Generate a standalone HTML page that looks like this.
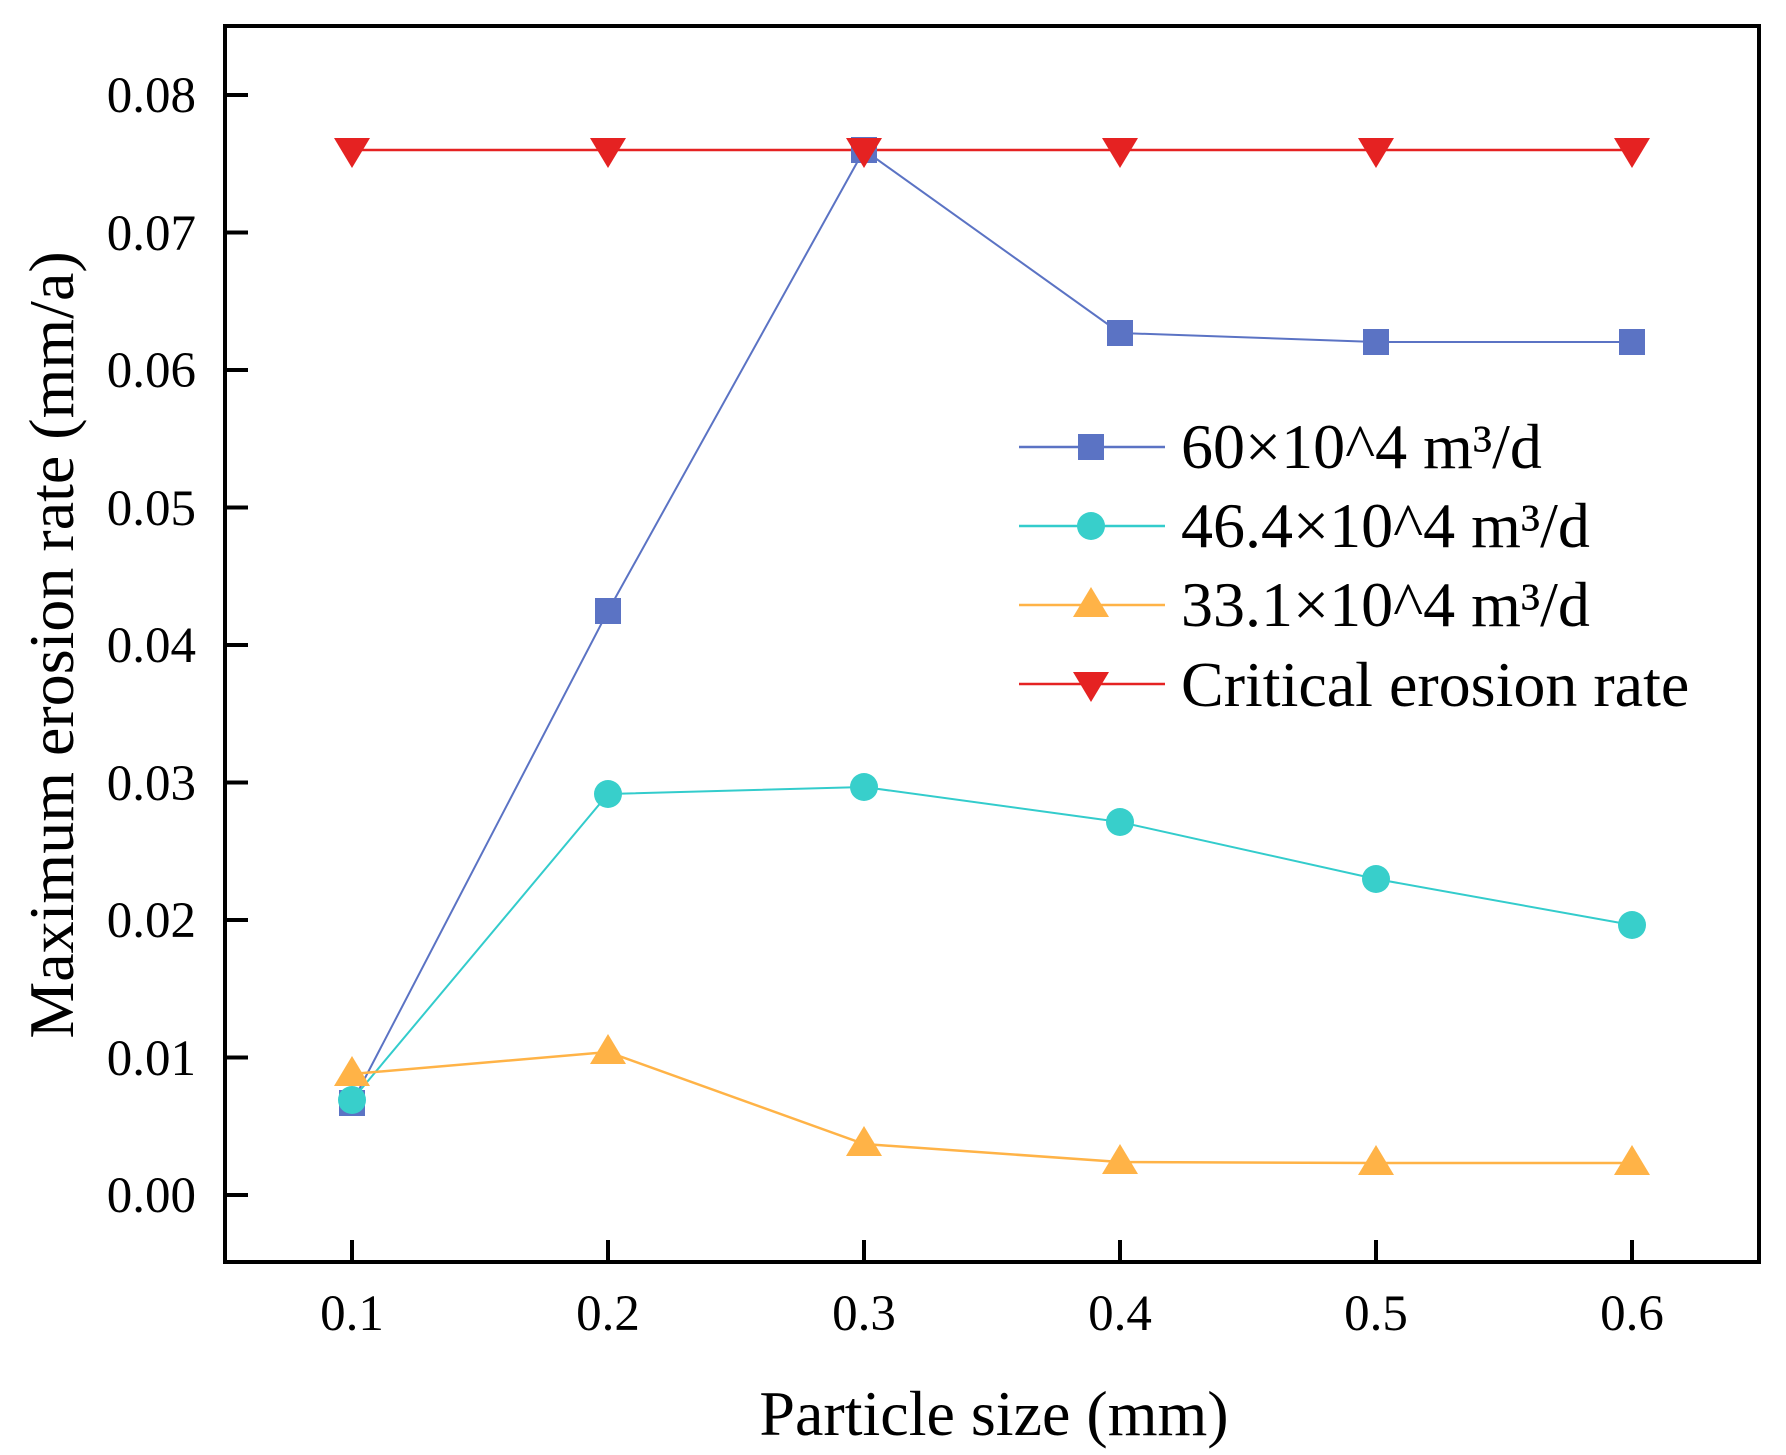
<!DOCTYPE html>
<html><head><meta charset="utf-8"><style>html,body{margin:0;padding:0;background:#fff}svg{display:block}text{font-family:"Liberation Serif",serif;fill:#000}</style></head><body>
<svg width="1786" height="1455" viewBox="0 0 1786 1455" xmlns="http://www.w3.org/2000/svg">
<rect width="1786" height="1455" fill="#fff"/>
<rect x="225" y="26" width="1534" height="1236" fill="none" stroke="#000" stroke-width="4"/>
<g stroke="#000" stroke-width="4">
<line x1="225" y1="1195" x2="248" y2="1195"/><line x1="225" y1="1057.5" x2="248" y2="1057.5"/><line x1="225" y1="920" x2="248" y2="920"/><line x1="225" y1="782.5" x2="248" y2="782.5"/><line x1="225" y1="645" x2="248" y2="645"/><line x1="225" y1="507.5" x2="248" y2="507.5"/><line x1="225" y1="370" x2="248" y2="370"/><line x1="225" y1="232.5" x2="248" y2="232.5"/><line x1="225" y1="95" x2="248" y2="95"/>
<line x1="352" y1="1262" x2="352" y2="1240"/><line x1="608" y1="1262" x2="608" y2="1240"/><line x1="864" y1="1262" x2="864" y2="1240"/><line x1="1120" y1="1262" x2="1120" y2="1240"/><line x1="1376" y1="1262" x2="1376" y2="1240"/><line x1="1632" y1="1262" x2="1632" y2="1240"/>
</g>
<g font-size="51" text-anchor="end">
<text x="196" y="1212">0.00</text><text x="196" y="1075">0.01</text><text x="196" y="937">0.02</text><text x="196" y="800">0.03</text><text x="196" y="662">0.04</text><text x="196" y="525">0.05</text><text x="196" y="387">0.06</text><text x="196" y="250">0.07</text><text x="196" y="112">0.08</text>
</g>
<g font-size="51" text-anchor="middle">
<text x="352" y="1330">0.1</text><text x="608" y="1330">0.2</text><text x="864" y="1330">0.3</text><text x="1120" y="1330">0.4</text><text x="1376" y="1330">0.5</text><text x="1632" y="1330">0.6</text>
</g>
<text x="994" y="1435" font-size="64" text-anchor="middle">Particle size (mm)</text>
<text transform="translate(73,645) rotate(-90)" font-size="64" text-anchor="middle">Maximum erosion rate (mm/a)</text>
<!-- red -->
<polyline points="352,150 1632,150" fill="none" stroke="#e52222" stroke-width="2.5"/>
<!-- blue -->
<polyline points="352,1103 608,611 864,150 1120,333 1376,342 1632,342" fill="none" stroke="#5b73c4" stroke-width="2"/>
<!-- cyan -->
<polyline points="352,1100 608,794 864,787 1120,822 1376,879 1632,925" fill="none" stroke="#33cccc" stroke-width="2"/>
<!-- orange -->
<polyline points="352,1074 608,1052 864,1144 1120,1162 1376,1163 1632,1163" fill="none" stroke="#ffb347" stroke-width="2.5"/>
<g fill="#5b73c4">
<rect x="339" y="1090" width="26" height="26"/><rect x="595" y="598" width="26" height="26"/><rect x="851" y="137" width="26" height="26"/><rect x="1107" y="320" width="26" height="26"/><rect x="1363" y="329" width="26" height="26"/><rect x="1619" y="329" width="26" height="26"/>
</g>
<g fill="#38cfcb">
<circle cx="352" cy="1100" r="14"/><circle cx="608" cy="794" r="14"/><circle cx="864" cy="787" r="14"/><circle cx="1120" cy="822" r="14"/><circle cx="1376" cy="879" r="14"/><circle cx="1632" cy="925" r="14"/>
</g>
<g fill="#ffb347">
<path d="M352,1056 l18,30 h-36z"/><path d="M608,1034 l18,30 h-36z"/><path d="M864,1126 l18,30 h-36z"/><path d="M1120,1144 l18,30 h-36z"/><path d="M1376,1145 l18,30 h-36z"/><path d="M1632,1145 l18,30 h-36z"/>
</g>
<g fill="#e52222">
<path d="M352,168 l18,-30 h-36z"/><path d="M608,168 l18,-30 h-36z"/><path d="M864,168 l18,-30 h-36z"/><path d="M1120,168 l18,-30 h-36z"/><path d="M1376,168 l18,-30 h-36z"/><path d="M1632,168 l18,-30 h-36z"/>
</g>
<!-- legend -->
<line x1="1019" y1="447" x2="1165" y2="447" stroke="#5b73c4" stroke-width="2.5"/>
<rect x="1078" y="434" width="26" height="26" fill="#5b73c4"/>
<line x1="1019" y1="526" x2="1165" y2="526" stroke="#33cccc" stroke-width="2.5"/>
<circle cx="1091" cy="526" r="14" fill="#38cfcb"/>
<line x1="1019" y1="605" x2="1165" y2="605" stroke="#ffb347" stroke-width="2.5"/>
<path d="M1091,587 l18,30 h-36z" fill="#ffb347"/>
<line x1="1019" y1="684" x2="1165" y2="684" stroke="#e52222" stroke-width="2.5"/>
<path d="M1091,702 l18,-30 h-36z" fill="#e52222"/>
<g font-size="64">
<text x="1181" y="468">60×10^4 m³/d</text>
<text x="1181" y="547">46.4×10^4 m³/d</text>
<text x="1181" y="626">33.1×10^4 m³/d</text>
<text x="1181" y="706">Critical erosion rate</text>
</g>
</svg>
</body></html>
